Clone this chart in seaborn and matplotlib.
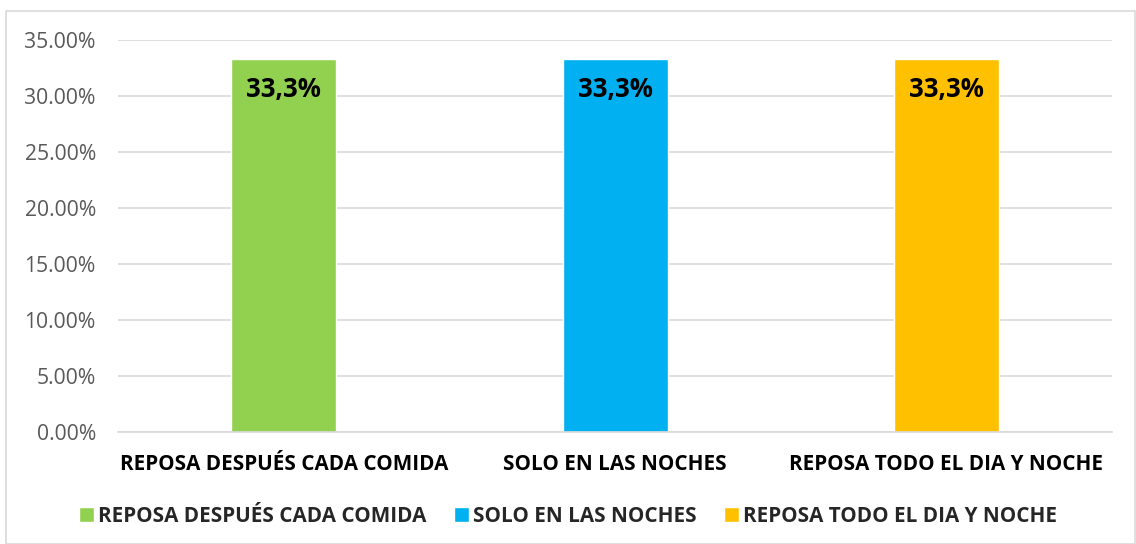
import matplotlib.pyplot as plt
from matplotlib.patches import Patch, Rectangle
from matplotlib.ticker import PercentFormatter
import seaborn as sns

# datos
categorias = ["REPOSA DESPUÉS CADA COMIDA", "SOLO EN LAS NOCHES", "REPOSA TODO EL DIA Y NOCHE"]
porcentajes = [0.333, 0.333, 0.333]
etiquetas = ["33,3%", "33,3%", "33,3%"]
colores = ["#92D050", "#00B0F0", "#FFC000"]

sns.set_theme(style="white")
plt.rcParams["font.family"] = ["Open Sans", "DejaVu Sans"]

fig = plt.figure(figsize=(11.36, 5.44), dpi=100)
ax = fig.add_axes([0.1039, 0.2059, 0.875, 0.7206])

sns.barplot(x=categorias, y=porcentajes, hue=categorias, palette=colores,
            width=0.317, legend=False, saturation=1, ax=ax)

ax.set_ylim(0, 0.35)
ax.set_yticks([i * 0.05 for i in range(8)])
ax.yaxis.set_major_formatter(PercentFormatter(1.0, decimals=2))
ax.grid(axis="y", color="#D9D9D9", linewidth=1.2)
ax.set_axisbelow(True)
for s in ["top", "right", "left"]:
    ax.spines[s].set_visible(False)
ax.spines["bottom"].set_color("#D9D9D9")
ax.spines["bottom"].set_linewidth(1.2)
ax.tick_params(axis="y", labelsize=15.2, labelcolor="#595959", length=0, pad=16)
ax.tick_params(axis="x", labelsize=14.9, length=0, pad=16)
for t in ax.get_xticklabels():
    t.set_fontweight("bold")
    t.set_color("black")
ax.set_xlabel("")
ax.set_ylabel("")

for barra, txt in zip(ax.patches, etiquetas):
    ax.annotate(txt, (barra.get_x() + barra.get_width() / 2, barra.get_height()),
                xytext=(0, -22), textcoords="offset points", ha="center", va="center",
                fontsize=18.5, fontweight="bold", color="black")

manejadores = [Patch(facecolor=c, label=l) for c, l in zip(colores, categorias)]
leg = fig.legend(handles=manejadores, loc="center", bbox_to_anchor=(0.5, 0.051), ncol=3,
                 frameon=False, handlelength=0.7, handleheight=0.7, columnspacing=1.35,
                 handletextpad=0.2, prop={"size": 14.9, "weight": "bold"})

fig.patches.append(Rectangle((6 / 1136, 0.5 / 544), 1129 / 1136, 533 / 544,
                             transform=fig.transFigure, fill=False,
                             edgecolor="#D9D9D9", linewidth=1.2))

fig.savefig("out.png", dpi=100)
